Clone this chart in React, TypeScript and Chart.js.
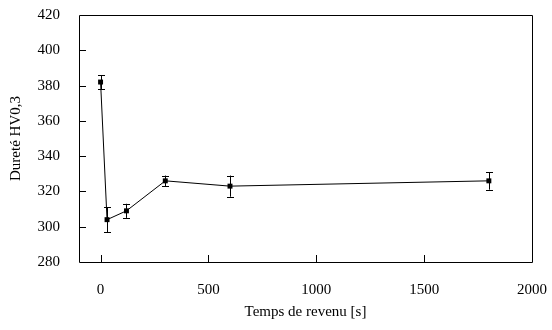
import React, { useEffect, useRef } from "react";
import { Chart, registerables } from "chart.js";

Chart.register(...registerables);

// Data
const temps = [0, 30, 120, 300, 600, 1800];
const durete = [382, 304, 309, 326, 323, 326];
const erreur = [4, 7, 4, 3, 6, 5];
const xTicks = [0, 500, 1000, 1500, 2000];
const yTicks = [280, 300, 320, 340, 360, 380, 400, 420];
const xTitle = "Temps de revenu [s]";
const yTitle = "Dureté HV0,3";

const FONT = "'Liberation Serif', 'Times New Roman', serif";
const FS = 15;

const framePlugin = {
  id: "frameTicks",
  afterDatasetsDraw(chart: any) {
    const { ctx, chartArea } = chart;
    const { left, right, top, bottom } = chartArea;
    const xs = chart.scales.x;
    const ys = chart.scales.y;
    ctx.save();
    ctx.strokeStyle = "#000";
    ctx.lineWidth = 1;
    // error bars
    const meta = chart.getDatasetMeta(0);
    meta.data.forEach((pt: any, i: number) => {
      const px = Math.round(pt.x) + 0.5;
      const yTop = ys.getPixelForValue(durete[i] + erreur[i]);
      const yBot = ys.getPixelForValue(durete[i] - erreur[i]);
      const cap = 3.5;
      ctx.beginPath();
      ctx.moveTo(px, yTop);
      ctx.lineTo(px, yBot);
      ctx.moveTo(px - cap, Math.round(yTop) + 0.5);
      ctx.lineTo(px + cap, Math.round(yTop) + 0.5);
      ctx.moveTo(px - cap, Math.round(yBot) + 0.5);
      ctx.lineTo(px + cap, Math.round(yBot) + 0.5);
      ctx.stroke();
    });
    // frame
    ctx.beginPath();
    ctx.rect(Math.round(left) + 0.5, Math.round(top) + 0.5, Math.round(right - left), Math.round(bottom - top));
    ctx.stroke();
    // inward ticks
    const tl = 7;
    ctx.beginPath();
    xTicks.forEach((v) => {
      const p = Math.round(xs.getPixelForValue(v)) + 0.5;
      if (p > left + 1 && p < right - 1) {
        ctx.moveTo(p, bottom);
        ctx.lineTo(p, bottom - tl);
      }
    });
    yTicks.forEach((v) => {
      const p = Math.round(ys.getPixelForValue(v)) + 0.5;
      if (p > top + 1 && p < bottom - 1) {
        ctx.moveTo(left, p);
        ctx.lineTo(left + tl, p);
      }
    });
    ctx.stroke();
    ctx.restore();
  },
};

export default function App() {
  const ref = useRef<HTMLCanvasElement | null>(null);
  useEffect(() => {
    if (!ref.current) return;
    Chart.defaults.font.family = FONT;
    Chart.defaults.color = "#000";
    const chart = new Chart(ref.current, {
      type: "scatter",
      data: {
        datasets: [
          {
            data: temps.map((t, i) => ({ x: t, y: durete[i] })),
            showLine: true,
            borderColor: "#000",
            borderWidth: 1,
            backgroundColor: "#000",
            pointStyle: "rect",
            pointRadius: 3.5,
            pointBorderWidth: 0,
            pointHoverRadius: 3.5,
          },
        ],
      },
      options: {
        responsive: false,
        animation: false,
        layout: { padding: { left: 0, right: 20, top: 15, bottom: 0 } },
        plugins: { legend: { display: false }, tooltip: { enabled: false } },
        scales: {
          x: {
            type: "linear",
            min: -100,
            max: 2000,
            afterBuildTicks: (s: any) => {
              s.ticks = xTicks.map((v) => ({ value: v }));
            },
            afterFit: (s: any) => {
              s.height = 68;
              s.paddingLeft = 0;
              s.paddingRight = 0;
            },
            grid: { display: false },
            border: { display: false },
            ticks: {
              font: { size: FS, family: FONT },
              color: "#000",
              padding: 11,
              maxRotation: 0,
              callback: (v: any) => String(v),
            },
            title: {
              display: true,
              text: xTitle,
              font: { size: FS, family: FONT },
              color: "#000",
              padding: { top: 0, bottom: 9 },
            },
          },
          y: {
            type: "linear",
            min: 280,
            max: 420,
            afterBuildTicks: (s: any) => {
              s.ticks = yTicks.map((v) => ({ value: v }));
            },
            afterFit: (s: any) => {
              s.width = 79;
              s.paddingTop = 0;
              s.paddingBottom = 0;
            },
            grid: { display: false },
            border: { display: false },
            ticks: {
              font: { size: FS, family: FONT },
              color: "#000",
              padding: 11,
              callback: (v: any) => String(v),
            },
            title: {
              display: true,
              text: yTitle,
              font: { size: FS, family: FONT },
              color: "#000",
              padding: { top: 7, bottom: 0 },
            },
          },
        },
      },
      plugins: [framePlugin],
    } as any);
    return () => chart.destroy();
  }, []);
  return (
    <div style={{ position: "fixed", left: 0, top: 0, width: 552, height: 330, background: "#fff" }}>
      <canvas ref={ref} width={552} height={330} style={{ width: 552, height: 330 }} />
    </div>
  );
}
